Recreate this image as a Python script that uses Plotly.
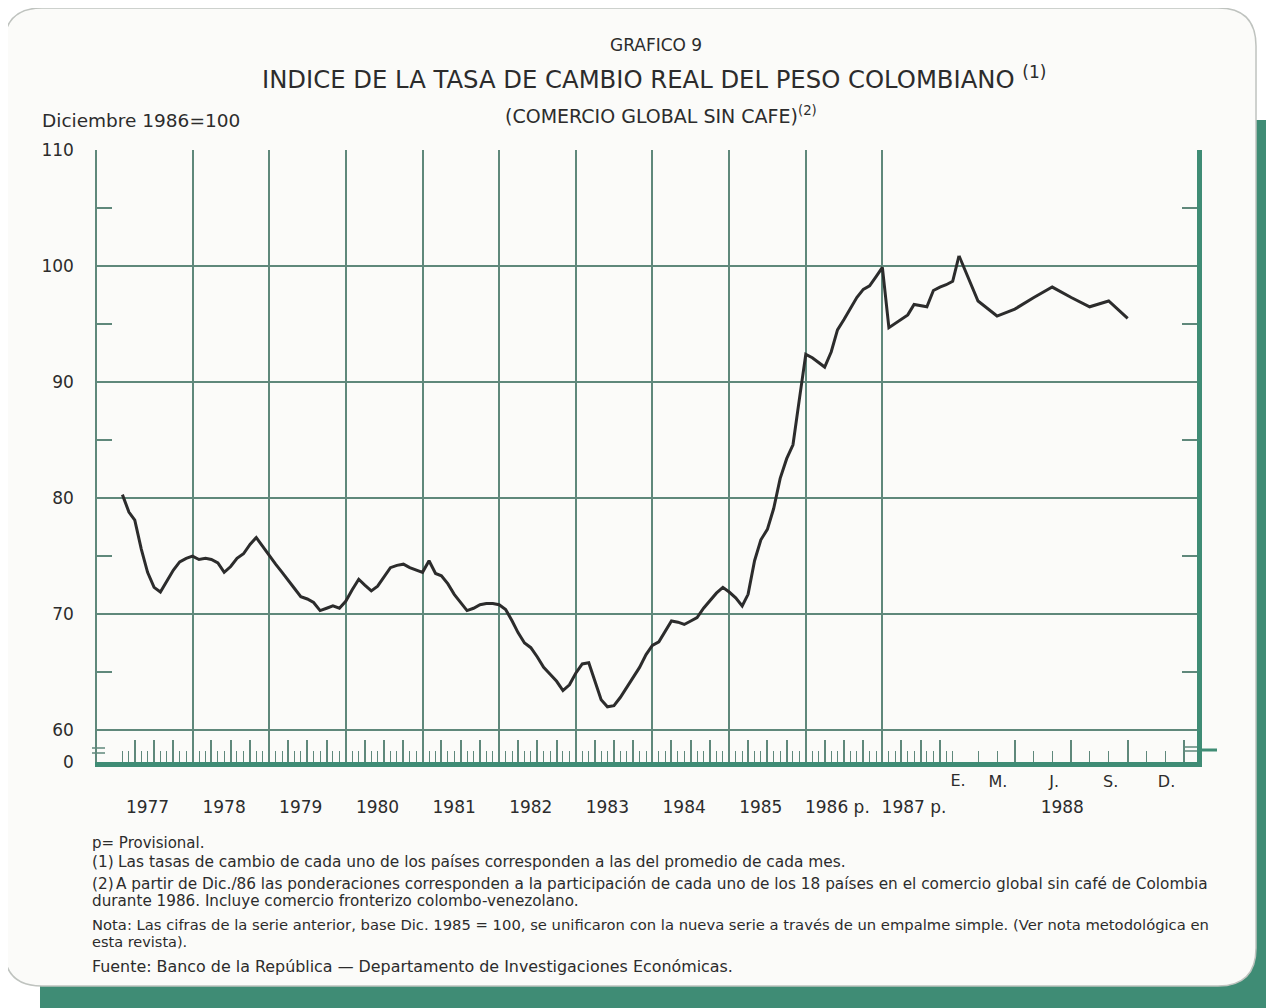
import plotly.graph_objects as go
import pandas as pd

# ---------------- data (monthly index, Dec 1986 = 100) ----------------
v1977 = [80.3, 78.8, 78.1, 75.6, 73.6, 72.3, 71.9, 72.8, 73.8, 74.5, 74.8, 75.0]
v1978 = [74.7, 74.8, 74.7, 74.4, 73.6, 74.1, 74.8, 75.2, 76.0, 76.6, 75.8, 75.1]
v1979 = [74.3, 73.6, 72.9, 72.2, 71.5, 71.3, 71.0, 70.3, 70.5, 70.7, 70.5, 71.1]
v1980 = [72.1, 73.0, 72.5, 72.0, 72.4, 73.2, 74.0, 74.2, 74.3, 74.0, 73.8, 73.6]
v1981 = [74.6, 73.5, 73.3, 72.6, 71.7, 71.0, 70.3, 70.5, 70.8, 70.9, 70.9, 70.8]
v1982 = [70.4, 69.4, 68.4, 67.5, 67.1, 66.3, 65.4, 64.8, 64.2, 63.4, 63.9, 64.9]
v1983 = [65.7, 65.8, 64.2, 62.6, 62.0, 62.1, 62.8, 63.7, 64.5, 65.4, 66.5, 67.3]
v1984 = [67.6, 68.5, 69.4, 69.3, 69.1, 69.4, 69.7, 70.5, 71.2, 71.8, 72.3, 71.9]
v1985 = [71.4, 70.7, 71.7, 74.6, 76.4, 77.3, 79.1, 81.7, 83.4, 84.6, 88.6, 92.4]
v1986 = [92.1, 91.7, 91.3, 92.6, 94.5, 95.4, 96.4, 97.3, 98.0, 98.3, 99.1, 99.9]
v1987 = [94.7, 95.1, 95.4, 95.8, 96.7, 96.6, 96.5, 97.9, 98.2, 98.4, 98.7, 100.9]
v1988 = [97.0, 95.7, 96.3, 97.3, 98.2, 97.3, 96.5, 97.0, 95.5]

year_labels = ["1977", "1978", "1979", "1980", "1981", "1982", "1983",
               "1984", "1985", "1986 p.", "1987 p."]
quarter_labels_1988 = ["M.", "J.", "S.", "D."]
first_month_label_1988 = "E."
year_label_1988 = "1988"
y_labels = ["0", "60", "70", "80", "90", "100", "110"]
y_values = [60, 70, 80, 90, 100, 110]

vals_main = (v1977 + v1978 + v1979 + v1980 + v1981 + v1982 + v1983 +
             v1984 + v1985 + v1986 + v1987)
dates_main = pd.date_range("1977-01-01", periods=len(vals_main), freq="MS")
dates_88 = pd.date_range("1987-12-01", periods=len(v1988) + 1, freq="MS")
vals_88 = [v1987[-1]] + v1988

# ---------------- geometry / style ----------------
# the page body adds an 8 px margin, so the figure is drawn 8 px smaller
OFF = 8
W, H = 1274 - OFF, 1008 - OFF
L, R, T, B = 97, 1197, 150, 762          # plot area in screen pixels
Y_BOTTOM = 57.24
GRID = "#5f887b"
TEAL = "#3f8c75"
INK = "#2c2c2c"
FONT = "DejaVu Sans"


def px_x(px):
    return (px - L) / (R - L)


def px_y(py):
    return (B - py) / (B - T)


SPLIT = px_x(959)


def rounded_rect(x0, y0, x1, y1, r):
    P = lambda a, b: f"{px_x(a):.5f},{px_y(b):.5f}"
    return (f"M {P(x0 + r, y0)} L {P(x1 - r, y0)} Q {P(x1, y0)} {P(x1, y0 + r)} "
            f"L {P(x1, y1 - r)} Q {P(x1, y1)} {P(x1 - r, y1)} "
            f"L {P(x0 + r, y1)} Q {P(x0, y1)} {P(x0, y1 - r)} "
            f"L {P(x0, y0 + r)} Q {P(x0, y0)} {P(x0 + r, y0)} Z")


fig = go.Figure()
fig.add_trace(go.Scatter(x=dates_main, y=vals_main, mode="lines",
                         line=dict(color=INK, width=3), xaxis="x", yaxis="y",
                         showlegend=False, hoverinfo="skip"))
fig.add_trace(go.Scatter(x=dates_88, y=vals_88, mode="lines",
                         line=dict(color=INK, width=3), xaxis="x2", yaxis="y",
                         showlegend=False, hoverinfo="skip"))
# empty helper traces so that the overlay axes get drawn
for xa, ya in (("x3", "y"), ("x4", "y"), ("x5", "y"), ("x2", "y2")):
    fig.add_trace(go.Scatter(x=[], y=[], xaxis=xa, yaxis=ya, showlegend=False,
                             hoverinfo="skip"))

range1 = ["1976-09-02", "1987-12-01"]
range2 = ["1987-12-01", "1988-12-23"]

quarters_main = pd.date_range("1977-03-01", "1987-12-01", freq="3MS")
months_main = pd.date_range("1977-01-01", "1987-12-01", freq="MS")
decembers = pd.date_range("1977-12-01", "1987-12-01", freq="12MS")
months_88 = pd.date_range("1988-01-01", "1988-12-01", freq="MS")
quarters_88 = pd.date_range("1988-03-01", "1988-12-01", freq="3MS")

tickfont = dict(family=FONT, size=17, color=INK)
monthfont = dict(family=FONT, size=16, color=INK)

fig.update_layout(
    width=W, height=H, autosize=False,
    margin=dict(l=L - OFF, r=W - (R - OFF), t=T - OFF, b=H - (B - OFF), pad=0),
    paper_bgcolor="white", plot_bgcolor="white",
    showlegend=False,
    xaxis=dict(domain=[0, SPLIT], anchor="y", type="date", range=range1,
               showgrid=False, zeroline=False,
               showline=True, linecolor=TEAL, linewidth=5,
               tickmode="array", tickvals=quarters_main, ticks="inside",
               ticklen=22, tickwidth=1.5, tickcolor=GRID, showticklabels=False,
               minor=dict(tickmode="array", tickvals=months_main, ticks="inside",
                          ticklen=11, tickwidth=1.2, tickcolor=GRID, showgrid=False)),
    xaxis3=dict(overlaying="x", anchor="y", type="date", range=range1,
                showgrid=True, gridcolor=GRID, gridwidth=1.5, zeroline=False,
                showline=False, tickmode="array", tickvals=decembers,
                ticktext=year_labels, ticks="", ticklabelshift=-45,
                ticklabelstandoff=33, tickfont=tickfont),
    xaxis2=dict(domain=[SPLIT, 1], anchor="y", type="date", range=range2,
                showgrid=False, zeroline=False,
                showline=True, linecolor=TEAL, linewidth=5,
                tickmode="array", tickvals=quarters_88, ticktext=quarter_labels_1988,
                ticks="inside", ticklen=22, tickwidth=1.5, tickcolor=GRID,
                ticklabelshift=-17, ticklabelstandoff=1, tickfont=monthfont,
                minor=dict(tickmode="array", tickvals=months_88, ticks="inside",
                           ticklen=11, tickwidth=1.2, tickcolor=GRID, showgrid=False)),
    xaxis4=dict(overlaying="x2", anchor="y", type="date", range=range2,
                showgrid=False, zeroline=False, showline=False,
                tickmode="array", tickvals=["1988-01-01"],
                ticktext=[first_month_label_1988], ticks="",
                ticklabelshift=-20, ticklabelstandoff=7, tickfont=monthfont),
    xaxis5=dict(overlaying="x2", anchor="y", type="date", range=range2,
                showgrid=False, zeroline=False, showline=False,
                tickmode="array", tickvals=["1988-06-01"],
                ticktext=[year_label_1988], ticks="",
                ticklabelshift=-9, ticklabelstandoff=33, tickfont=tickfont),
    yaxis=dict(domain=[0, 1], anchor="x", range=[Y_BOTTOM, 110.02],
               tickmode="array", tickvals=[Y_BOTTOM] + y_values, ticktext=y_labels,
               showgrid=True, gridcolor=GRID, gridwidth=1.5, zeroline=False,
               showline=True, linecolor=GRID, linewidth=1.5, ticks="",
               ticklabelstandoff=18, tickfont=tickfont,
               minor=dict(tickmode="array", tickvals=[65, 75, 85, 95, 105],
                          ticks="inside", ticklen=15, tickwidth=1.5,
                          tickcolor=GRID, showgrid=False)),
    yaxis2=dict(overlaying="y", side="right", anchor="x2", range=[Y_BOTTOM, 110.02],
                showgrid=False, zeroline=False, showline=True, linecolor=TEAL,
                linewidth=5, tickmode="array", tickvals=[65, 75, 85, 95, 105],
                ticks="inside", ticklen=15, tickwidth=1.5, tickcolor=GRID,
                showticklabels=False),
)

# card background and teal frame
fig.add_shape(type="path", xref="paper", yref="paper", layer="below",
              path=rounded_rect(40, 120, 1330, 1060, 40),
              fillcolor=TEAL, line=dict(width=0))
fig.add_shape(type="path", xref="paper", yref="paper", layer="below",
              path=rounded_rect(4, 8, 1256, 986, 38),
              fillcolor="#fbfbf9", line=dict(color="#bfc3bf", width=1.5))

# axis-break marks
for yy in (748, 753):
    fig.add_shape(type="line", xref="paper", yref="paper",
                  x0=px_x(92), x1=px_x(105), y0=px_y(yy), y1=px_y(yy),
                  line=dict(color=GRID, width=1.5))
for yy in (747, 751):
    fig.add_shape(type="line", xref="paper", yref="paper",
                  x0=px_x(1183), x1=px_x(1197), y0=px_y(yy), y1=px_y(yy),
                  line=dict(color=GRID, width=1.5))
fig.add_shape(type="line", xref="paper", yref="paper",
              x0=px_x(1199), x1=px_x(1217), y0=px_y(750), y1=px_y(750),
              line=dict(color=TEAL, width=3))


def note(text, x, y, size, anchor="left"):
    fig.add_annotation(text=text, xref="paper", yref="paper",
                       x=px_x(x), y=px_y(y), xanchor=anchor, yanchor="middle",
                       showarrow=False, font=dict(family=FONT, size=size, color=INK))


note("GRAFICO 9", 656, 45, 17, "center")
note("INDICE DE LA TASA DE CAMBIO REAL DEL PESO COLOMBIANO <sup>(1)</sup>", 260, 78, 24.3)
note("(COMERCIO GLOBAL SIN CAFE)<sup>(2)</sup>", 503, 115, 19)
note("Diciembre 1986=100", 40, 121, 18.5)

note("p= Provisional.", 90, 843, 15)
note("(1)", 90, 862, 15.3)
note("Las tasas de cambio de cada uno de los países corresponden a las del promedio de cada mes.", 116, 862, 15.4)
note("(2)", 90, 884, 15.3)
note("A partir de Dic./86 las ponderaciones corresponden a la participación de cada uno de los 18 países en el comercio global sin café de Colombia", 114, 884, 15.3)
note("durante 1986. Incluye comercio fronterizo colombo-venezolano.", 90, 901, 15.2)
note("Nota: Las cifras de la serie anterior, base Dic. 1985 = 100, se unificaron con la nueva serie a través de un empalme simple. (Ver nota metodológica en", 90, 924, 14.75)
note("esta revista).", 90, 942, 14.5)
note("Fuente: Banco de la República — Departamento de Investigaciones Económicas.", 90, 966, 15.9)

fig.write_html("out.html")
